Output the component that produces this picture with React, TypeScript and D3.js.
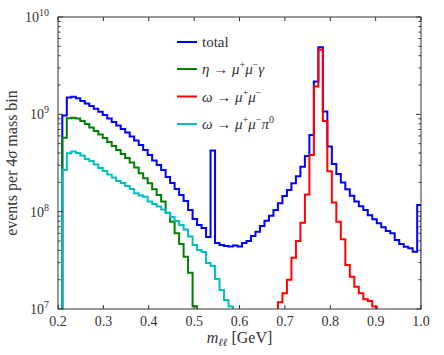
import * as d3 from "d3";

// histogram binning (4 sigma mass bins)
const binStart = 0.2095;
const binWidth = 0.0099;

const totalCounts = [
  9.7e8, 1.49e9, 1.52e9, 1.46e9, 1.37e9, 1.29e9, 1.22e9, 1.14e9, 1.06e9, 9.86e8,
  9.08e8, 8.35e8, 7.69e8, 7.08e8, 6.52e8, 5.93e8, 5.39e8, 4.85e8, 4.31e8, 3.82e8,
  3.36e8, 3.02e8, 2.68e8, 2.27e8, 1.97e8, 1.71e8, 1.48e8, 1.29e8, 1.04e8, 8.41e7,
  7.3e7, 6.8e7, 5.5e7, 4.24e8, 4.77e7, 4.55e7, 4.44e7, 4.39e7, 4.49e7, 4.39e7,
  4.77e7, 5.0e7, 5.63e7, 6.23e7, 7.13e7, 8.08e7, 9.1e7, 1.04e8, 1.22e8, 1.45e8,
  1.67e8, 1.96e8, 2.31e8, 2.9e8, 3.74e8, 6.14e8, 2.17e9, 4.89e9, 1.07e9, 4.66e8,
  3.09e8, 2.44e8, 1.99e8, 1.7e8, 1.46e8, 1.27e8, 1.14e8, 1.04e8, 9.19e7, 8.35e7,
  7.6e7, 6.91e7, 6.33e7, 6.0e7, 5.12e7, 4.66e7, 4.37e7, 4.21e7, 3.88e7, 1.17e8,
];
const etaGammaCounts = [
  5.76e8, 9.12e8, 9.25e8, 9.08e8, 8.55e8, 7.97e8, 7.33e8, 6.75e8, 6.21e8, 5.72e8,
  5.2e8, 4.73e8, 4.31e8, 3.92e8, 3.56e8, 3.2e8, 2.85e8, 2.48e8, 2.2e8, 1.96e8,
  1.7e8, 1.48e8, 1.27e8, 9.77e7, 7.89e7, 6.0e7, 4.66e7, 3.45e7, 2.36e7, 1.07e7,
];
const omegaMuMuFirstBin = 48;
const omegaMuMuCounts = [
  1.17e7, 1.45e7, 2.0e7, 3.37e7, 5.0e7, 7.71e7, 1.5e8, 3.82e8, 1.93e9, 4.62e9,
  8.55e8, 2.6e8, 1.24e8, 7.89e7, 5.2e7, 2.83e7, 2.15e7, 1.69e7, 1.45e7, 1.26e7,
  1.21e7, 1.06e7,
];
const omegaPi0Counts = [
  2.68e8, 3.98e8, 4.16e8, 4.01e8, 3.78e8, 3.48e8, 3.32e8, 3.06e8, 2.81e8, 2.62e8,
  2.41e8, 2.25e8, 2.07e8, 1.97e8, 1.84e8, 1.71e8, 1.55e8, 1.47e8, 1.42e8, 1.27e8,
  1.2e8, 1.13e8, 1.05e8, 9.7e7, 8.82e7, 8.02e7, 7.3e7, 6.56e7, 5.56e7, 4.55e7,
  4.04e7, 3.85e7, 2.97e7, 2.77e7, 2.03e7, 1.57e7, 1.24e7, 1.06e7,
];

const xTicks = [0.2, 0.3, 0.4, 0.5, 0.6, 0.7, 0.8, 0.9, 1.0];
const yExponents = [7, 8, 9, 10];

type Seg = { t: string; it?: boolean; sup?: boolean };

const series: { color: string; first: number; values: number[]; label: Seg[] }[] = [
  { color: "#0000ff", first: 0, values: totalCounts, label: [{ t: "total" }] },
  {
    color: "#008000",
    first: 0,
    values: etaGammaCounts,
    label: [{ t: "η", it: true }, { t: " → " }, { t: "μ", it: true }, { t: "+", sup: true }, { t: "μ", it: true }, { t: "−", sup: true }, { t: "γ", it: true }],
  },
  {
    color: "#ff0000",
    first: omegaMuMuFirstBin,
    values: omegaMuMuCounts,
    label: [{ t: "ω", it: true }, { t: " → " }, { t: "μ", it: true }, { t: "+", sup: true }, { t: "μ", it: true }, { t: "−", sup: true }],
  },
  {
    color: "#00bfbf",
    first: 0,
    values: omegaPi0Counts,
    label: [{ t: "ω", it: true }, { t: " → " }, { t: "μ", it: true }, { t: "+", sup: true }, { t: "μ", it: true }, { t: "−", sup: true }, { t: "π", it: true }, { t: "0", sup: true }],
  },
];

const W = 444;
const H = 355;
const margin = { top: 17, right: 23, bottom: 46, left: 58 };
const font = "'Liberation Serif', 'DejaVu Serif', serif";

function Label({ segs }: { segs: Seg[] }) {
  const out: JSX.Element[] = [];
  let raised = false;
  segs.forEach((s, i) => {
    let dy = 0;
    if (s.sup && !raised) { dy = -6; raised = true; }
    else if (!s.sup && raised) { dy = 6; raised = false; }
    out.push(
      <tspan key={i} dy={dy} fontStyle={s.it ? "italic" : "normal"} fontSize={s.sup ? 10 : 15}>
        {s.t}
      </tspan>
    );
  });
  return <>{out}</>;
}

export default function App() {
  const x = d3.scaleLinear().domain([0.2, 1.0]).range([margin.left, W - margin.right]);
  const y = d3.scaleLog().domain([1e7, 1e10]).range([H - margin.bottom, margin.top]);
  const x0 = margin.left, x1 = W - margin.right, y0 = H - margin.bottom, y1 = margin.top;
  const edge = (k: number) => binStart + k * binWidth;

  const stepPath = (first: number, values: number[]) => {
    const pts: [number, number][] = [[x(edge(first)), y0 + 10]];
    values.forEach((v, i) => {
      pts.push([x(edge(first + i)), y(v)]);
      pts.push([x(edge(first + i + 1)), y(v)]);
    });
    pts.push([x(edge(first + values.length)), y0 + 10]);
    return d3.line()(pts) ?? "";
  };

  const minorY: number[] = [];
  yExponents.slice(0, -1).forEach((e) => {
    for (let m = 2; m < 10; m++) minorY.push(m * Math.pow(10, e));
  });

  const axisColor = "#333";
  const legendX = 177;
  const legendY = [42, 69, 96.5, 124];

  return (
    <svg width={W} height={H} style={{ position: "absolute", left: 0, top: 0, background: "#fff" }} fontFamily={font}>
      <defs>
        <clipPath id="plot">
          <rect x={x0} y={y1} width={x1 - x0} height={y0 - y1} />
        </clipPath>
      </defs>
      <g clipPath="url(#plot)">
        {series.map((s, i) => (
          <path key={i} d={stepPath(s.first, s.values)} fill="none" stroke={s.color} strokeWidth={2} strokeLinejoin="miter" />
        ))}
      </g>
      {/* frame */}
      <rect x={x0} y={y1} width={x1 - x0} height={y0 - y1} fill="none" stroke={axisColor} strokeWidth={1} />
      {/* x ticks */}
      {xTicks.map((t) => (
        <g key={t}>
          <line x1={x(t)} x2={x(t)} y1={y0} y2={y0 - 4} stroke={axisColor} />
          <line x1={x(t)} x2={x(t)} y1={y1} y2={y1 + 4} stroke={axisColor} />
          <text x={x(t)} y={y0 + 17} textAnchor="middle" fontSize={14} fill="#333">
            {t.toFixed(1)}
          </text>
        </g>
      ))}
      {/* y ticks */}
      {yExponents.map((e) => (
        <g key={e}>
          <line x1={x0} x2={x0 + 5} y1={y(Math.pow(10, e))} y2={y(Math.pow(10, e))} stroke={axisColor} />
          <line x1={x1} x2={x1 - 5} y1={y(Math.pow(10, e))} y2={y(Math.pow(10, e))} stroke={axisColor} />
          <text x={49} y={y(Math.pow(10, e)) + 5} textAnchor="end" fontSize={14} fill="#333">
            10<tspan dy={-6} fontSize={10}>{e}</tspan>
          </text>
        </g>
      ))}
      {minorY.map((v) => (
        <g key={v}>
          <line x1={x0} x2={x0 + 2.5} y1={y(v)} y2={y(v)} stroke={axisColor} />
          <line x1={x1} x2={x1 - 2.5} y1={y(v)} y2={y(v)} stroke={axisColor} />
        </g>
      ))}
      {/* axis labels */}
      <text transform={`translate(17,${(y0 + y1) / 2}) rotate(-90)`} textAnchor="middle" fontSize={16} fill="#333">
        events per 4<tspan fontStyle="italic">σ</tspan> mass bin
      </text>
      <text x={(x0 + x1) / 2} y={343} textAnchor="middle" fontSize={16} fill="#333">
        <tspan fontStyle="italic">m</tspan>
        <tspan fontStyle="italic" fontSize={11} dy={3}>ℓℓ</tspan>
        <tspan dy={-3}> [GeV]</tspan>
      </text>
      {/* legend */}
      {series.map((s, i) => (
        <g key={i}>
          <line x1={legendX} x2={legendX + 20} y1={legendY[i]} y2={legendY[i]} stroke={s.color} strokeWidth={2} />
          <text x={legendX + 25} y={legendY[i] + 5} fontSize={15} fill="#333">
            <Label segs={s.label} />
          </text>
        </g>
      ))}
    </svg>
  );
}
